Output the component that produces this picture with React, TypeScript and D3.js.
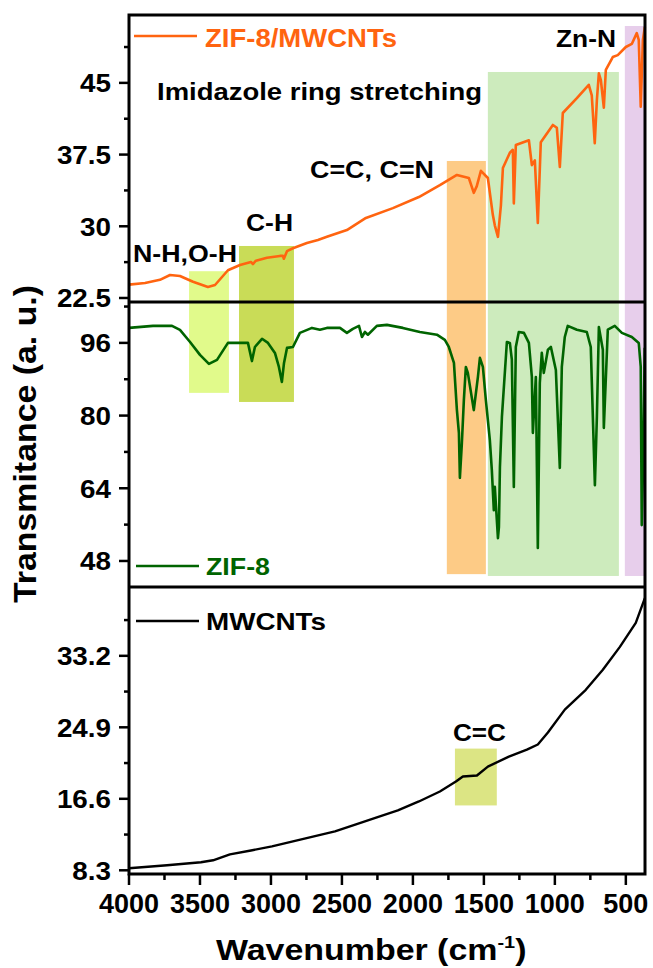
import React from 'react';
import * as d3 from 'd3';

// ZIF-8/MWCNTs (top panel)
const compositeWn = [4000, 3887, 3782, 3711, 3641, 3549, 3444, 3394, 3303, 3218, 3141, 3127, 3106, 3028, 2937, 2916, 2909, 2887, 2845, 2747, 2669, 2606, 2465, 2331, 2141, 1958, 1810, 1690, 1606, 1571, 1550, 1521, 1472, 1437, 1423, 1401, 1380, 1366, 1317, 1296, 1289, 1275, 1183, 1162, 1141, 1120, 1099, 1014, 986, 965, 944, 845, 761, 740, 719, 704, 690, 676, 655, 641, 592, 557, 500, 458, 423, 409, 395, 380, 366];
const compositeT = [23.9, 24.07, 24.4, 24.9, 24.8, 24.2, 23.65, 23.86, 25.4, 25.95, 26.27, 26.05, 26.4, 26.7, 26.9, 26.9, 26.6, 27.4, 27.7, 28.25, 28.57, 28.9, 29.6, 30.87, 31.9, 33.06, 34.3, 35.37, 35.05, 33.5, 34.2, 35.8, 35.05, 31.2, 30.1, 28.9, 32.2, 36.1, 37.7, 38.0, 32.4, 38.5, 39.0, 36.4, 36.9, 30.35, 38.8, 40.6, 40.3, 36.2, 41.85, 43.4, 44.8, 43.7, 38.7, 43.2, 46.0, 45.3, 42.4, 46.35, 47.7, 47.9, 48.75, 49.07, 50.2, 49.5, 42.5, 49.5, 50.85];

// ZIF-8 (middle panel)
const zifWn = [4000, 3831, 3697, 3641, 3570, 3500, 3437, 3380, 3303, 3162, 3134, 3113, 3063, 3021, 2972, 2944, 2923, 2908, 2887, 2845, 2796, 2711, 2655, 2606, 2514, 2465, 2423, 2380, 2359, 2338, 2317, 2254, 2183, 2071, 1951, 1831, 1775, 1747, 1711, 1690, 1676, 1669, 1655, 1641, 1627, 1613, 1571, 1542, 1528, 1507, 1486, 1458, 1444, 1430, 1423, 1401, 1394, 1387, 1373, 1366, 1338, 1317, 1303, 1289, 1275, 1254, 1218, 1183, 1162, 1155, 1134, 1120, 1106, 1092, 1078, 1049, 1028, 993, 965, 951, 930, 909, 845, 775, 747, 718, 704, 690, 662, 655, 627, 578, 528, 458, 409, 395, 388, 378, 367];
const zifT = [99.3, 99.74, 99.74, 98.86, 96.2, 93.36, 91.37, 92.26, 96, 96, 92.0, 95.1, 96.9, 96.0, 93.8, 90.7, 87.4, 91.6, 94.9, 95.1, 98.2, 99.3, 98.9, 99.3, 99.3, 98.2, 99.1, 99.74, 97.3, 98.4, 97.8, 99.74, 99.96, 99.3, 98.4, 97.8, 96.66, 95.1, 91.6, 81.2, 76.2, 66.3, 74, 83.4, 90.7, 89.4, 81.2, 88.5, 92.7, 90.7, 83.4, 74.6, 68, 59.2, 64.3, 53, 55.5, 68.7, 79.7, 83, 96.2, 96, 92.3, 64.3, 95.1, 98.4, 98.2, 96, 88.5, 76.2, 88.5, 50.85, 87.2, 93.8, 89.4, 94.5, 95.1, 90.05, 68.5, 90.7, 97.3, 99.74, 98.9, 98.4, 95.1, 64.7, 79.7, 99.5, 94.5, 77.3, 98.9, 99.74, 98.2, 97.3, 96, 90.7, 55.9, 70, 94.9];

// MWCNTs (bottom panel)
const cntWn = [4000, 3732, 3493, 3408, 3289, 3141, 2993, 2845, 2697, 2549, 2401, 2254, 2106, 1958, 1810, 1697, 1648, 1549, 1472, 1324, 1197, 1120, 1049, 930, 782, 662, 542, 430, 366];
const cntT = [8.53, 8.88, 9.23, 9.46, 10.15, 10.6, 11.08, 11.66, 12.24, 12.82, 13.63, 14.44, 15.25, 16.29, 17.45, 18.6, 19.19, 19.3, 20.34, 21.5, 22.3, 22.9, 24.3, 26.95, 29.26, 31.58, 34.24, 37.02, 39.9];

const topTicks = [22.5, 30, 37.5, 45];
const topMinor = [26.25, 33.75, 41.25, 48.75];
const midTicks = [48, 64, 80, 96];
const midMinor = [56, 72, 88, 104];
const botTicks = [8.3, 16.6, 24.9, 33.2];
const botMinor = [12.45, 20.75, 29.05, 37.35];
const xTicks = [4000, 3500, 3000, 2500, 2000, 1500, 1000, 500];
const xMinor = [3750, 3250, 2750, 2250, 1750, 1250, 750];

// highlighted bands: wavenumber range, upper edge (top-panel units), lower edge (middle-panel units)
const bandFrom = [3577, 3225, 1761, 1472, 507];
const bandTo = [3296, 2838, 1486, 549, 366];
const bandUpper = [25.3, 27.94, 36.83, 46.14, 50.95];
const bandLower = [85.0, 83.0, 45.1, 44.7, 44.7];
const bandColors = ['#E1FA8B', '#C9DC57', '#FDCB86', '#CDEBBD', '#E7CEEB'];
// MWCNT C=C band (bottom-panel units)
const cntBandFrom = 1704;
const cntBandTo = 1409;
const cntBandUpper = 22.43;
const cntBandLower = 15.83;

const FONT = "'Liberation Sans', Arial, Helvetica, sans-serif";

const L = 129, R = 645, TOP = 15, D1 = 302, D2 = 587, BOT = 874;

export default function App() {
  const x = d3.scaleLinear().domain([4000, 365]).range([L, R]);
  const yTop = d3.scaleLinear().domain([22.08, 52.1]).range([D1, TOP]);
  const yMid = d3.scaleLinear().domain([42.27, 105.0]).range([D2, D1]);
  const yBot = d3.scaleLinear().domain([7.87, 41.19]).range([BOT, D2]);

  const mk = (ws: number[], vs: number[], y: any) =>
    d3.line<number>().x((_, i) => x(ws[i])).y((v) => y(v))(vs) || '';

  const yLabels = (ticks: number[], minor: number[], y: any, key: string) => (
    <g key={key}>
      {ticks.map((t) => (
        <g key={t}>
          <line x1={L - 10} x2={L} y1={y(t)} y2={y(t)} stroke="#000" strokeWidth={2.5} />
          <text transform={`translate(${L - 18},${y(t)}) scale(1.07,1)`} dy="0.36em" textAnchor="end"
            fontFamily={FONT} fontWeight="bold" fontSize={26} fill="#000">{String(t)}</text>
        </g>
      ))}
      {minor.map((t) => (
        <line key={'m' + t} x1={L - 5} x2={L} y1={y(t)} y2={y(t)} stroke="#000" strokeWidth={2.5} />
      ))}
    </g>
  );

  const ann = (txt: string, px: number, py: number, len: number, fill = '#000', size = 24) => (
    <text x={px} y={py} textLength={len} lengthAdjust="spacingAndGlyphs" fontFamily={FONT}
      fontWeight="bold" fontSize={size} fill={fill}>{txt}</text>
  );

  return (
    <svg width={653} height={968} style={{ position: 'absolute', left: 0, top: 0, background: '#fff' }}>
      <rect x={0} y={0} width={653} height={968} fill="#fff" />
      {bandFrom.map((f, i) => (
        <rect key={'b' + i} x={x(f)} y={yTop(bandUpper[i])} width={x(bandTo[i]) - x(f)}
          height={yMid(bandLower[i]) - yTop(bandUpper[i])} fill={bandColors[i]} />
      ))}
      <rect x={x(cntBandFrom)} y={yBot(cntBandUpper)} width={x(cntBandTo) - x(cntBandFrom)}
        height={yBot(cntBandLower) - yBot(cntBandUpper)} fill="#DCE584" />

      <path d={mk(compositeWn, compositeT, yTop)} fill="none" stroke="#FF6410" strokeWidth={2.6} strokeLinejoin="round" />
      <path d={mk(zifWn, zifT, yMid)} fill="none" stroke="#006400" strokeWidth={2.6} strokeLinejoin="round" />
      <path d={mk(cntWn, cntT, yBot)} fill="none" stroke="#000" strokeWidth={2.4} strokeLinejoin="round" />

      {/* frame */}
      <rect x={L} y={TOP} width={R - L} height={BOT - TOP} fill="none" stroke="#000" strokeWidth={3} />
      <line x1={L} x2={R} y1={D1} y2={D1} stroke="#000" strokeWidth={3} />
      <line x1={L} x2={R} y1={D2} y2={D2} stroke="#000" strokeWidth={3} />

      {yLabels(topTicks, topMinor, yTop, 'top')}
      {yLabels(midTicks, midMinor, yMid, 'mid')}
      {yLabels(botTicks, botMinor, yBot, 'bot')}

      {xTicks.map((t) => (
        <g key={'x' + t}>
          <line x1={x(t)} x2={x(t)} y1={BOT} y2={BOT + 11} stroke="#000" strokeWidth={2.5} />
          <text x={x(t)} y={913} textAnchor="middle" fontFamily={FONT} fontWeight="bold" fontSize={27} fill="#000">{String(t)}</text>
        </g>
      ))}
      {xMinor.map((t) => (
        <line key={'xm' + t} x1={x(t)} x2={x(t)} y1={BOT} y2={BOT + 6} stroke="#000" strokeWidth={2.5} />
      ))}

      {/* axis titles */}
      <text transform={`translate(216,960) scale(1.17,1)`} fontFamily={FONT} fontWeight="bold" fontSize={29} fill="#000">
        Wavenumber (cm<tspan fontSize={17} dy={-12}>-1</tspan><tspan dy={12}>)</tspan>
      </text>
      <text transform="translate(36,444) rotate(-90)" textAnchor="middle" textLength={318} lengthAdjust="spacingAndGlyphs"
        fontFamily={FONT} fontWeight="bold" fontSize={31} fill="#000">Transmitance (a. u.)</text>

      {/* legends */}
      <line x1={134} x2={197} y1={36} y2={36} stroke="#FF6410" strokeWidth={2.4} />
      {ann('ZIF-8/MWCNTs', 205, 47, 192, '#FF6410', 26)}
      <line x1={136} x2={199} y1={566} y2={566} stroke="#006400" strokeWidth={2.4} />
      {ann('ZIF-8', 206, 575, 64, '#006400')}
      <line x1={136} x2={199} y1={621} y2={621} stroke="#000" strokeWidth={2.4} />
      {ann('MWCNTs', 206, 630, 120)}

      {/* annotations */}
      {ann('Zn-N', 556, 47, 60)}
      {ann('Imidazole ring stretching', 157, 100, 325)}
      {ann('C=C, C=N', 310, 178, 124)}
      {ann('C-H', 246, 231, 47)}
      {ann('N-H,O-H', 133, 262, 104)}
      {ann('C=C', 453, 741, 53)}
    </svg>
  );
}
